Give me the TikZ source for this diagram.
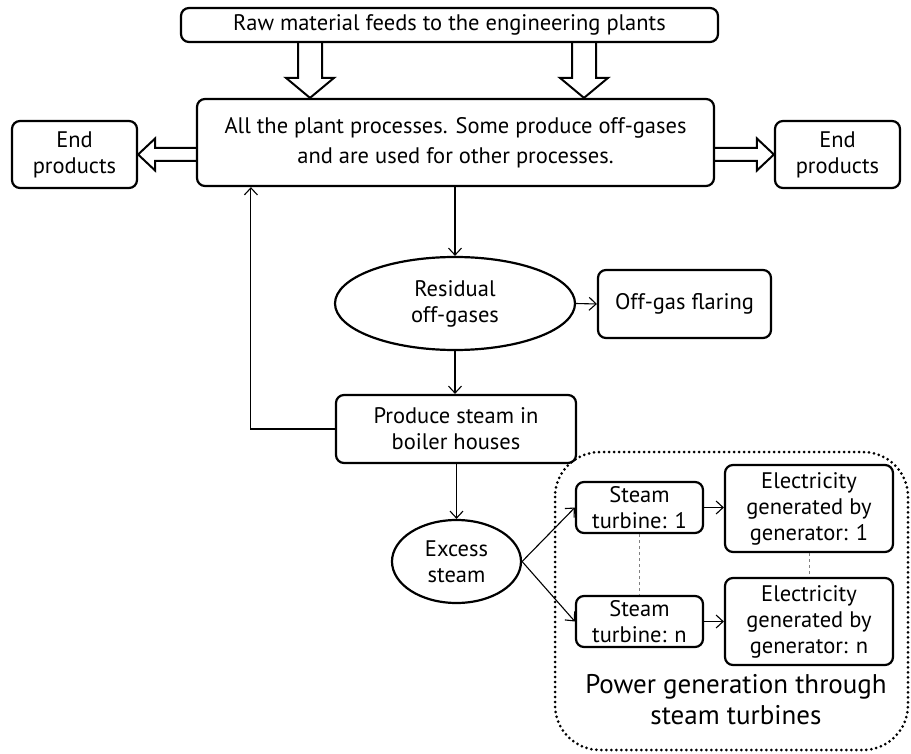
\documentclass[tikz,border=0pt]{standalone}
\usepackage{fontspec}
\setmainfont{PT Sans}
\usetikzlibrary{arrows.meta,shapes.geometric,calc}
\tikzset{
  box/.style={draw, line width=2.2pt, rounded corners=8pt, align=center, inner sep=0pt, font=\fontsize{22.5}{26}\selectfont},
  blob/.style={draw, ellipse, line width=2.2pt, align=center, inner sep=0pt, font=\fontsize{22.5}{26}\selectfont},
  link/.style={line width=1.1pt, -{Straight Barb[length=7pt,width=13pt]}},
  same/.style={gray, dashed, line width=0.8pt},
  fatdown/.style={line width=2pt, to path={let \p1=(\tikztostart), \p2=(\tikztotarget) in
    (\x1-12pt,\y1) -- (\x1-12pt,\y2+20pt) -- (\x1-24pt,\y2+20pt) -- (\x1,\y2)
    -- (\x1+24pt,\y2+20pt) -- (\x1+12pt,\y2+20pt) -- (\x1+12pt,\y1)}},
  fatleft/.style={line width=2pt, to path={let \p1=(\tikztostart), \p2=(\tikztotarget) in
    (\x1,\y1+6.5pt) -- (\x2+17pt,\y1+6.5pt) -- (\x2+17pt,\y1+16pt) -- (\x2,\y1)
    -- (\x2+17pt,\y1-16pt) -- (\x2+17pt,\y1-6.5pt) -- (\x1,\y1-6.5pt)}},
  fatright/.style={line width=2pt, to path={let \p1=(\tikztostart), \p2=(\tikztotarget) in
    (\x1,\y1+6.5pt) -- (\x2-17pt,\y1+6.5pt) -- (\x2-17pt,\y1+16pt) -- (\x2,\y1)
    -- (\x2-17pt,\y1-16pt) -- (\x2-17pt,\y1-6.5pt) -- (\x1,\y1-6.5pt)}}
}
\begin{document}
\begin{tikzpicture}[x=1pt,y=-1pt]
	\useasboundingbox (0,0) rectangle (911,754);
	\node[box, minimum width=537pt, minimum height=34pt] (raw) at (449.5,25) {Raw material feeds to the engineering plants};
	\node[box, minimum width=517pt, minimum height=87pt, font=\fontsize{22.5}{30}\selectfont] (all) at (455.5,142.5) {All the plant processes. Some produce off-gases\\and are used for other processes.};
	\node[box, minimum width=125pt, minimum height=67pt] (endL) at (74.5,154.5) {End\\products};
	\node[box, minimum width=125pt, minimum height=67pt] (endR) at (837.5,154.5) {End\\products};
	\node[blob, minimum width=240pt, minimum height=93pt] (resid) at (455,303.5) {Residual\\off-gases};
	\node[box, minimum width=173pt, minimum height=68pt] (flare) at (684.5,304) {Off-gas flaring};
	\node[box, minimum width=240pt, minimum height=68pt] (produce) at (456,429) {Produce steam in\\boiler houses};
	\node[blob, minimum width=129pt, minimum height=83pt] (excess) at (456.5,561.5) {Excess\\steam};
	\node[box, minimum width=127pt, minimum height=51pt] (turb1) at (639.5,507.5) {Steam\\turbine: 1};
	\node[box, minimum width=127pt, minimum height=51pt] (turbn) at (639.5,621.5) {Steam\\turbine: n};
	\node[box, minimum width=168pt, minimum height=87pt] (elec1) at (809,508.5) {Electricity\\generated by\\generator: 1};
	\node[box, minimum width=168pt, minimum height=87pt] (elecn) at (809,621.5) {Electricity\\generated by\\generator: n};
	\draw[line width=3pt, line cap=round, dash pattern=on 0pt off 5pt, rounded corners=45pt] (555,452) rectangle (908,750);
	\node[align=center, font=\fontsize{27}{31}\selectfont] (power) at (736,700) {Power generation through\\steam turbines};
	\draw[fatdown] ([xshift=-139.5pt]raw.south) to (all.north);
	\draw[fatdown] ([xshift=134.5pt]raw.south) to (all.north);
	\draw[fatleft] (all.west |- endL) to (endL.east);
	\draw[fatright] (all.east |- endR) to (endR.west);
	\draw[link] (all.south -| resid.north) -- (resid.north);
	\draw[link] (resid.east) -- (flare.west);
	\draw[link] (resid.south) -- (resid.south |- produce.north);
	\draw[link] (produce.west) -| ([xshift=55pt]all.south west);
	\draw[link] (produce.south -| excess.north) -- (excess.north);
	\draw[link] (excess.east) -- (turb1.west);
	\draw[link] (excess.east) -- (turbn.west);
	\draw[link] (turb1.east) -- (turb1.east -| elec1.west);
	\draw[link] (turbn.east) -- (elecn.west);
	\draw[same] (turb1.south) -- (turbn.north);
	\draw[same] (elec1.south) -- (elecn.north);
\end{tikzpicture}
\end{document}
